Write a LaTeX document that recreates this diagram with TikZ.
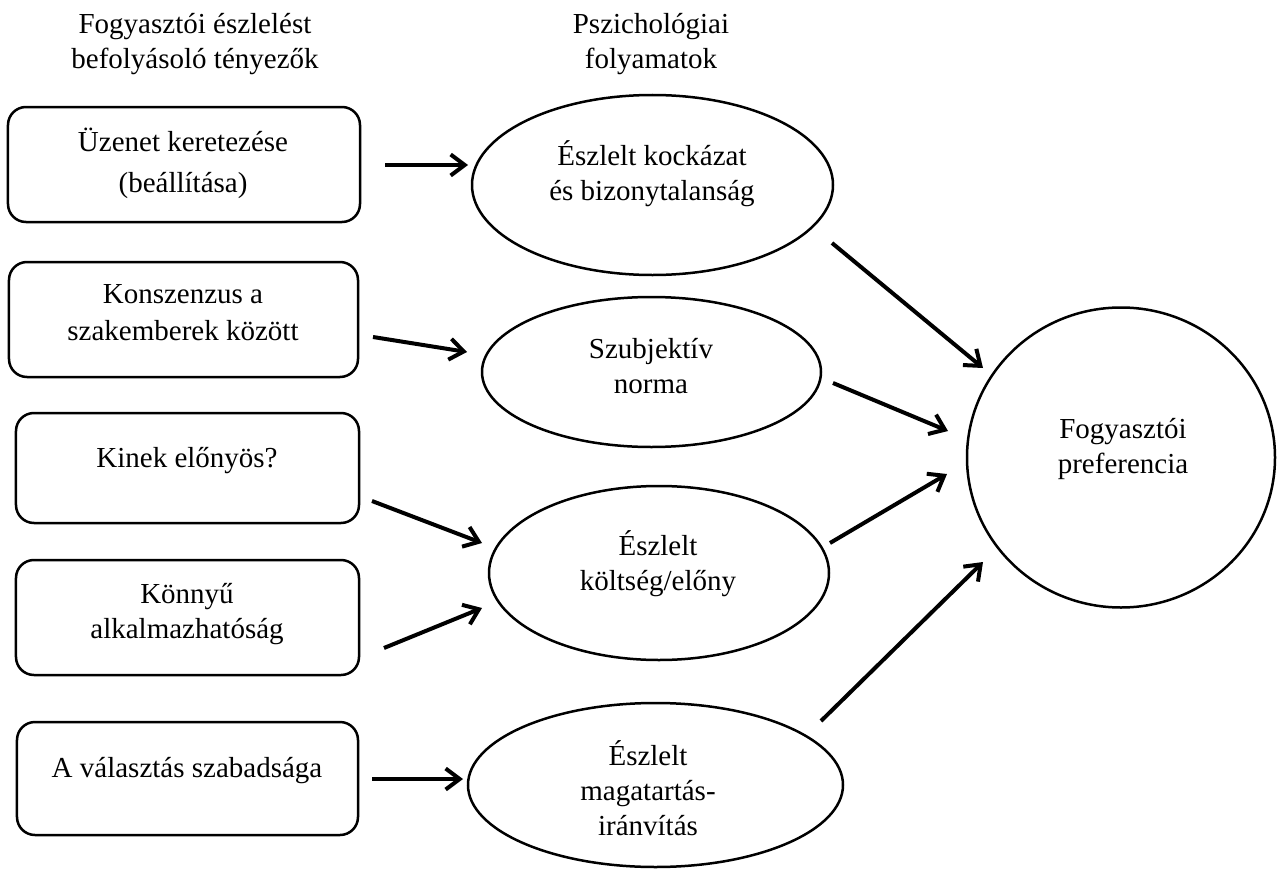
\documentclass[tikz,border=0pt]{standalone}
\usepackage{fontspec}
\setmainfont{Liberation Serif}
\usetikzlibrary{arrows.meta,shapes.geometric}
\begin{document}
\begin{tikzpicture}[x=1bp,y=-1bp,
  box/.style={draw, rectangle, rounded corners=18bp, line width=2.5bp, inner sep=0pt},
  oval/.style={draw, ellipse, line width=2.5bp, inner sep=0pt},
  txt/.style={align=center, anchor=base, inner sep=0pt, font=\fontsize{29bp}{35bp}\selectfont},
  arr/.style={line width=4bp, -{Straight Barb[length=14bp,width=21bp]}}
]
\useasboundingbox (0,0) rectangle (1277,869);

% headers (positioned at the baseline of their last line)
\node[txt] (h1) at (195,68) {Fogyasztói észlelést\\befolyásoló tényezők};
\node[txt] (h2) at (651,68) {Pszichológiai\\folyamatok};

% left boxes
\node[box, minimum width=352bp, minimum height=115bp] (b1) at (184,164.5) {};
\node[box, minimum width=349bp, minimum height=115bp] (b2) at (183.5,319.5) {};
\node[box, minimum width=343bp, minimum height=110bp] (b3) at (187.5,468) {};
\node[box, minimum width=343bp, minimum height=115bp] (b4) at (187.5,617.5) {};
\node[box, minimum width=341bp, minimum height=113bp] (b5) at (187.5,778.5) {};

\node[txt, font=\fontsize{29bp}{41bp}\selectfont] (tb1) at (183,192) {Üzenet keretezése\\(beállítása)};
\node[txt, font=\fontsize{29bp}{37bp}\selectfont] (tb2) at (183,340) {Konszenzus a\\szakemberek között};
\node[txt] (tb3) at (187,467) {Kinek előnyös?};
\node[txt] (tb4) at (187,638) {Könnyű\\alkalmazhatóság};
\node[txt] (tb5) at (187,777) {A választás szabadsága};

% middle ellipses
\node[oval, minimum width=361bp, minimum height=180bp] (e1) at (652.5,185) {};
\node[oval, minimum width=339bp, minimum height=150bp] (e2) at (651.5,372) {};
\node[oval, minimum width=340bp, minimum height=174bp] (e3) at (659,573) {};
\node[oval, minimum width=375bp, minimum height=164bp] (e4) at (655.5,785) {};

\node[txt] (te1) at (652,200) {Észlelt kockázat\\és bizonytalanság};
\node[txt] (te2) at (651,393) {Szubjektív\\norma};
\node[txt] (te3) at (658,590) {Észlelt\\költség/előny};
\node[txt] (te4) at (648,835) {Észlelt\\magatartás-\\iránvítás};

% right circle
\node[oval, minimum width=308bp, minimum height=300bp] (c) at (1121,457.5) {};
\node[txt] (tc) at (1123,473) {Fogyasztói\\preferencia};

% arrow end points
\coordinate (a1s) at (385,165); \coordinate (a1e) at (468,165);
\coordinate (a2s) at (373,337); \coordinate (a2e) at (467,352);
\coordinate (a3s) at (372,501); \coordinate (a3e) at (482,543);
\coordinate (a4s) at (384,648); \coordinate (a4e) at (482,608);
\coordinate (a5s) at (372,779); \coordinate (a5e) at (463,779);
\coordinate (r1s) at (832,243); \coordinate (r1e) at (983,368);
\coordinate (r2s) at (833,383); \coordinate (r2e) at (948,431);
\coordinate (r3s) at (830,543); \coordinate (r3e) at (947,474);
\coordinate (r4s) at (821,721); \coordinate (r4e) at (983,562);

\draw[arr] (a1s) -- (a1e);
\draw[arr] (a2s) -- (a2e);
\draw[arr] (a3s) -- (a3e);
\draw[arr] (a4s) -- (a4e);
\draw[arr] (a5s) -- (a5e);
\draw[arr] (r1s) -- (r1e);
\draw[arr] (r2s) -- (r2e);
\draw[arr] (r3s) -- (r3e);
\draw[arr] (r4s) -- (r4e);
\end{tikzpicture}
\end{document}
